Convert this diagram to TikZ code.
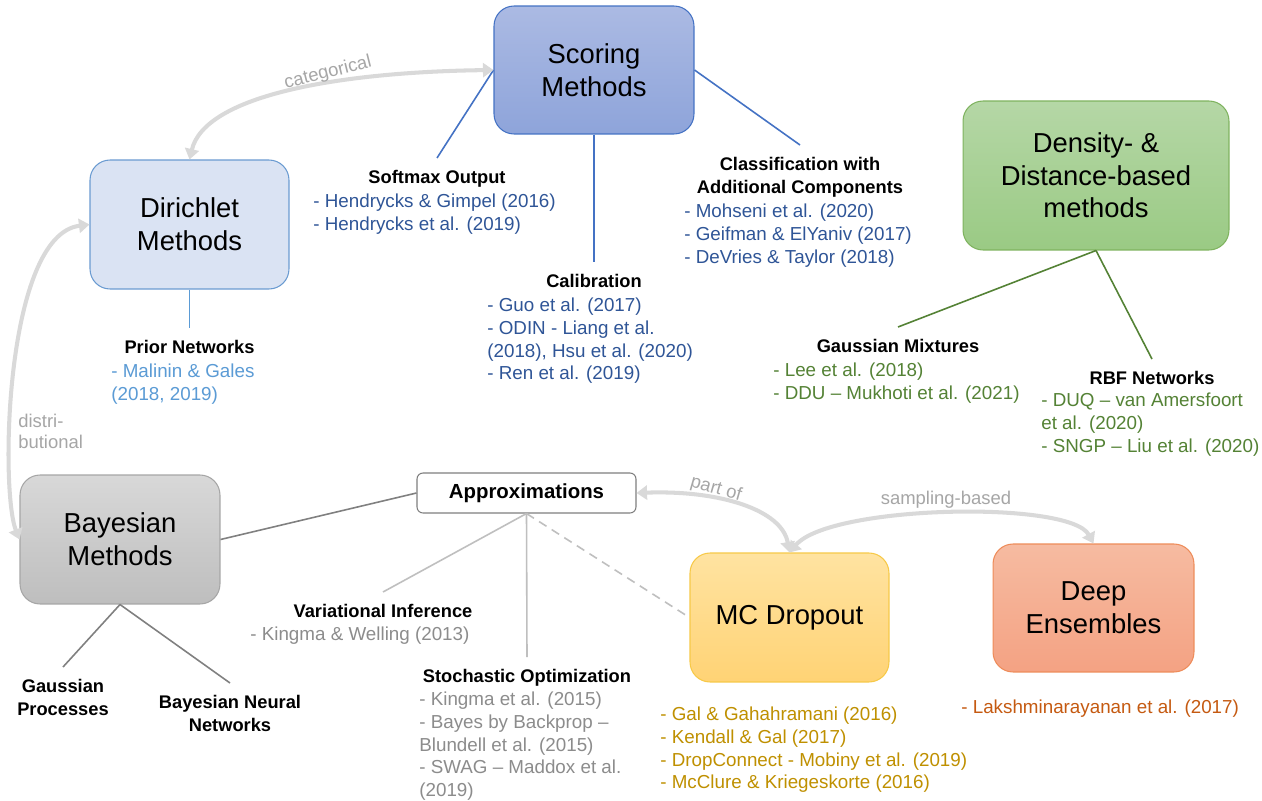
\documentclass[tikz,border=0pt]{standalone}
\usepackage{fontspec}
\setmainfont{Liberation Sans}
\usetikzlibrary{arrows.meta}
\definecolor{scTop}{HTML}{ABBAE3}
\definecolor{scBot}{HTML}{8EA4DA}
\definecolor{scBd}{HTML}{4472C4}
\definecolor{scRef}{HTML}{2F5597}
\definecolor{diFill}{HTML}{DAE3F3}
\definecolor{diBd}{HTML}{6A9BD1}
\definecolor{diLine}{HTML}{5B9BD5}
\definecolor{deTop}{HTML}{B5D7A6}
\definecolor{deBot}{HTML}{9ACA84}
\definecolor{deBd}{HTML}{7FB35F}
\definecolor{deRef}{HTML}{548235}
\definecolor{baTop}{HTML}{D8D8D8}
\definecolor{baBot}{HTML}{BEBEBE}
\definecolor{baBd}{HTML}{A6A6A6}
\definecolor{baLine}{HTML}{808080}
\definecolor{apBd}{HTML}{7F7F7F}
\definecolor{apLine}{HTML}{BFBFBF}
\definecolor{apRef}{HTML}{8C8C8C}
\definecolor{mcTop}{HTML}{FFE3A1}
\definecolor{mcBot}{HTML}{FFD375}
\definecolor{mcBd}{HTML}{F7C948}
\definecolor{mcRef}{HTML}{BF9000}
\definecolor{dpTop}{HTML}{F6BBA1}
\definecolor{dpBot}{HTML}{F4A283}
\definecolor{dpBd}{HTML}{EE8C5A}
\definecolor{dpRef}{HTML}{C55A11}
\definecolor{arrGray}{HTML}{D9D9D9}
\definecolor{lblGray}{HTML}{A6A6A6}
\newcommand{\boxfont}{\fontsize{15.6}{18.6}\selectfont}
\newcommand{\reffont}{\fontsize{10.7}{13}\selectfont}
\newcommand{\hdgfont}{\fontsize{10.4}{13}\selectfont\bfseries}
\newcommand{\lblfont}{\fontsize{10.5}{12}\selectfont}
\newcommand{\RefL}[1]{\begin{tabular}{@{}l@{}}#1\end{tabular}}
\newcommand{\HdC}[1]{\begin{tabular}{@{}c@{}}#1\end{tabular}}
\tikzset{
  bx/.style={rounded corners=0.4cm, line width=0.6pt, inner sep=0pt, align=center, font=\boxfont, text=black},
  hdg/.style={inner xsep=0pt, inner ysep=5.3pt, font=\hdgfont, text=black, anchor=north},
  rfs/.style={inner sep=0pt, anchor=north west, font=\reffont},
  conn/.style={line width=0.9pt},
  curvearr/.style={draw=arrGray, line width=2.3pt, {Triangle[width=8pt,length=6pt]}-{Triangle[width=8pt,length=6pt]}},
  lbl/.style={text=lblGray, font=\lblfont, inner sep=0pt}
}
\begin{document}
\begin{tikzpicture}[x=0.02cm,y=-0.02cm]
\useasboundingbox (0,0) rectangle (1262,801);
\fill[white] (0,0) rectangle (1262,801);

% main boxes
\node[bx, top color=scTop, bottom color=scBot, draw=scBd, minimum width=4cm, minimum height=2.56cm] (scoring) at (594,70) {Scoring\\Methods};
\node[bx, fill=diFill, draw=diBd, minimum width=3.98cm, minimum height=2.58cm] (dirichlet) at (189.5,224.5) {Dirichlet\\Methods};
\node[bx, top color=deTop, bottom color=deBot, draw=deBd, minimum width=5.32cm, minimum height=2.98cm] (density) at (1096,175.5) {Density- \&\\Distance-based\\methods};
\node[bx, top color=baTop, bottom color=baBot, draw=baBd, minimum width=4cm, minimum height=2.58cm] (bayes) at (120,539.5) {Bayesian\\Methods};
\node[rounded corners=0.12cm, line width=0.6pt, draw=apBd, fill=white, inner sep=0pt, minimum width=4.38cm, minimum height=0.8cm, font=\fontsize{11.6}{14}\selectfont\bfseries] (approx) at (526.5,493) {Approximations};
\node[bx, top color=mcTop, bottom color=mcBot, draw=mcBd, minimum width=3.98cm, minimum height=2.58cm] (mc) at (789.5,617.5) {MC Dropout};
\node[bx, top color=dpTop, bottom color=dpBot, draw=dpBd, minimum width=4.02cm, minimum height=2.56cm] (deep) at (1093.5,608) {Deep\\Ensembles};

% headings
\node[hdg] (softmax) at (437,158) {\HdC{Softmax Output}};
\node[hdg] (calib) at (594,262) {\HdC{Calibration}};
\node[hdg] (classif) at (800,145) {\HdC{Classification with\\Additional Components}};
\node[hdg] (prior) at (189.5,328) {\HdC{Prior Networks}};
\node[hdg] (gm) at (898,327) {\HdC{Gaussian Mixtures}};
\node[hdg] (rbf) at (1152,359) {\HdC{RBF Networks}};
\node[hdg] (vi) at (383,592) {\HdC{Variational Inference}};
\node[hdg] (so) at (527,657) {\HdC{Stochastic Optimization}};
\node[hdg] (gp) at (63,667) {\HdC{Gaussian\\Processes}};
\node[hdg] (bnn) at (230,683) {\HdC{Bayesian Neural\\Networks}};

% references
\node[rfs, text=scRef] (softmaxrefs) at (313,191) {\RefL{- Hendrycks \& Gimpel (2016)\\- Hendrycks et al. (2019)}};
\node[rfs, text=scRef] (calibrefs) at (487,295) {\RefL{- Guo et al. (2017)\\- ODIN - Liang et al.\\(2018), Hsu et al. (2020)\\- Ren et al. (2019)}};
\node[rfs, text=scRef] (classifrefs) at (684,201) {\RefL{- Mohseni et al. (2020)\\- Geifman \& ElYaniv (2017)\\- DeVries \& Taylor (2018)}};
\node[rfs, text=diLine] (priorrefs) at (111,361) {\RefL{- Malinin \& Gales\\(2018, 2019)}};
\node[rfs, text=deRef] (gmrefs) at (773,360) {\RefL{- Lee et al. (2018)\\- DDU -- Mukhoti et al. (2021)}};
\node[rfs, text=deRef] (rbfrefs) at (1041,390) {\RefL{- DUQ -- van Amersfoort\\et al. (2020)\\- SNGP -- Liu et al. (2020)}};
\node[rfs, text=apRef] (virefs) at (250,624) {\RefL{- Kingma \& Welling (2013)}};
\node[rfs, text=apRef] (sorefs) at (419,689) {\RefL{- Kingma et al. (2015)\\- Bayes by Backprop --\\Blundell et al. (2015)\\- SWAG -- Maddox et al.\\(2019)}};
\node[rfs, text=mcRef] (mcrefs) at (660,704) {\RefL{- Gal \& Gahahramani (2016)\\- Kendall \& Gal (2017)\\- DropConnect - Mobiny et al. (2019)\\- McClure \& Kriegeskorte (2016)}};
\node[rfs, text=dpRef] (deeprefs) at (961,697) {\RefL{- Lakshminarayanan et al. (2017)}};

% connectors
\draw[conn, scBd] (scoring.west) -- (softmax.north);
\draw[conn, scBd] (scoring.south) -- (calib.north);
\draw[conn, scBd] (scoring.east) -- (classif.north);
\draw[conn, diLine] (dirichlet.south) -- (prior.north);
\draw[conn, deRef] (density.south) -- (gm.north);
\draw[conn, deRef] (density.south) -- (rbf.north);
\draw[conn, baLine] (bayes.east) -- (approx.west);
\draw[conn, baLine] (bayes.south) -- (gp.north);
\draw[conn, baLine] (bayes.south) -- (bnn.north);
\draw[conn, apLine] (approx.south) -- (vi.north);
\draw[conn, apLine] (approx.south) -- (so.north);
\draw[conn, apLine, dash pattern=on 5pt off 3.5pt] (approx.south) -- (mc.west);

% curved relations
\draw[curvearr] (scoring.west) .. controls (340,72) and (205,95) .. (dirichlet.north);
\draw[curvearr] (dirichlet.west) .. controls (5,235) and (0,490) .. (bayes.west);
\draw[curvearr] (approx.east) .. controls (720,490) and (782,510) .. (mc.north);
\draw[curvearr] (mc.north) .. controls (830,505) and (1070,500) .. (deep.north);

% labels
\node[lbl, rotate=14] (catlbl) at (328,73) {categorical};
\node[lbl, anchor=north west] (distlbl) at (18,412) {\begin{tabular}{@{}l@{}}distri-\\butional\end{tabular}};
\node[lbl, rotate=-16] (partlbl) at (716,489) {part of};
\node[lbl] (samplbl) at (946,500) {sampling-based};
\end{tikzpicture}
\end{document}
